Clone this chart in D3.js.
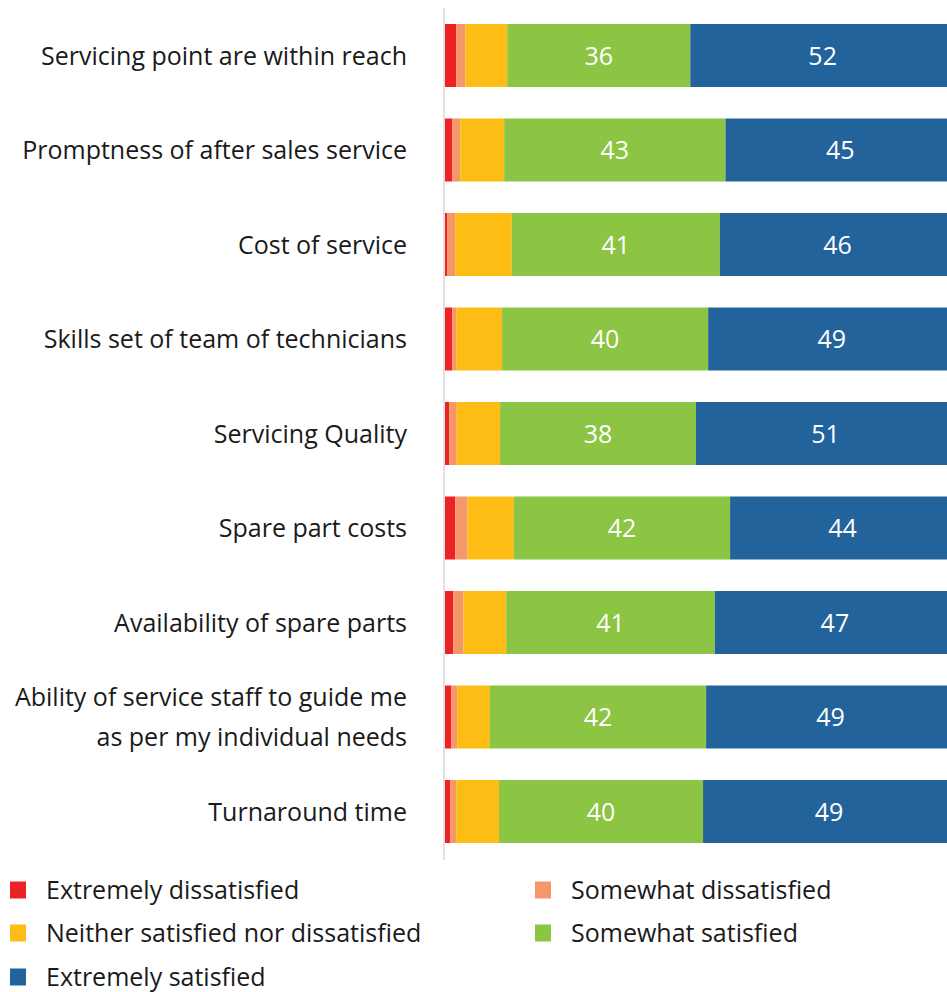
<!DOCTYPE html>
<html><head><meta charset="utf-8">
<script src="https://cdn.jsdelivr.net/npm/d3@7"></script>
<style>html,body{margin:0;padding:0;background:#fff;overflow:hidden}svg{display:block}text{font-family:"Open Sans",sans-serif}</style>
</head><body><svg id="c" width="947" height="992"></svg>
<script>
const categories = [
  ["Servicing point are within reach"],
  ["Promptness of after sales service"],
  ["Cost of service"],
  ["Skills set of team of technicians"],
  ["Servicing Quality"],
  ["Spare part costs"],
  ["Availability of spare parts"],
  ["Ability of service staff to guide me", "as per my individual needs"],
  ["Turnaround time"]
];
const seriesNames = ["Extremely dissatisfied","Somewhat dissatisfied","Neither satisfied nor dissatisfied","Somewhat satisfied","Extremely satisfied"];
const extremelyDissatisfied = [2.2, 1.4, 0.4, 1.4, 0.8, 2.0, 1.6, 1.2, 1.0];
const somewhatDissatisfied  = [1.8, 1.6, 1.6, 0.8, 1.5, 2.4, 2.0, 1.2, 1.2];
const neither               = [8.2, 8.6, 11.1, 9.0, 8.5, 9.1, 8.4, 6.4, 8.4];
const somewhatSatisfied     = [35.9, 43.4, 40.8, 40.4, 38.4, 42.4, 40.9, 42.4, 40.0];
const extremelySatisfied    = [51.9, 45.0, 46.1, 48.5, 50.8, 44.1, 47.1, 48.8, 49.4];
const colors = ["#ed2224","#f5976a","#fdbd15","#8cc443","#22639c"];

const series = [extremelyDissatisfied, somewhatDissatisfied, neither, somewhatSatisfied, extremelySatisfied];
const rows = categories.map((c,i)=>{const o={key:i}; seriesNames.forEach((s,j)=>o[s]=series[j][i]); return o;});
const stack = d3.stack().keys(seriesNames)(rows);

const svg = d3.select("#c");
const x = d3.scaleLinear().domain([0,100]).range([445,955]);
const y = d3.scaleBand().domain(d3.range(categories.length)).range([8.25,858.75]).paddingInner(1/3).paddingOuter(1/6);

svg.append("line").attr("x1",444).attr("x2",444).attr("y1",8).attr("y2",860)
  .attr("stroke","#d9d9d9").attr("stroke-width",1.6);

const g = svg.selectAll("g.s").data(stack).join("g").attr("class","s").attr("fill",(d,i)=>colors[i]);
g.selectAll("rect").data(d=>d).join("rect")
  .attr("x",d=>x(d[0])).attr("width",d=>x(d[1])-x(d[0]))
  .attr("y",(d,i)=>y(i)).attr("height",y.bandwidth());

// value labels for the two large segments
[3,4].forEach(k=>{
  svg.append("g").selectAll("text").data(stack[k]).join("text")
    .attr("x",d=>(x(d[0])+x(d[1]))/2).attr("y",(d,i)=>y(i)+y.bandwidth()/2)
    .attr("dy","0.36em").attr("text-anchor","middle").attr("fill","#fff")
    .attr("font-size",25).text((d,i)=>Math.round(series[k][i]));
});

// category labels
const lab = svg.append("g").selectAll("text").data(categories).join("text")
  .attr("text-anchor","end").attr("font-size",25).attr("fill","#1a1a1a")
  .attr("x",407).attr("y",(d,i)=>y(i)+y.bandwidth()/2);
lab.each(function(d){
  const t=d3.select(this);
  d.forEach((line,j)=>{
    t.append("tspan").attr("x",407).attr("dy", j===0 ? (0.36 - (d.length-1)*0.8) + "em" : "1.6em").text(line);
  });
});

// legend
const legPos = [[10,890],[535,890],[10,933],[535,933],[10,977]];
const leg = svg.append("g").selectAll("g").data(seriesNames).join("g")
  .attr("transform",(d,i)=>`translate(${legPos[i][0]},${legPos[i][1]})`);
leg.append("rect").attr("x",0).attr("y",-8.5).attr("width",16).attr("height",17).attr("fill",(d,i)=>colors[i]);
leg.append("text").attr("x",36).attr("dy","0.36em").attr("font-size",25).attr("fill","#1a1a1a").text(d=>d);
</script></body></html>
